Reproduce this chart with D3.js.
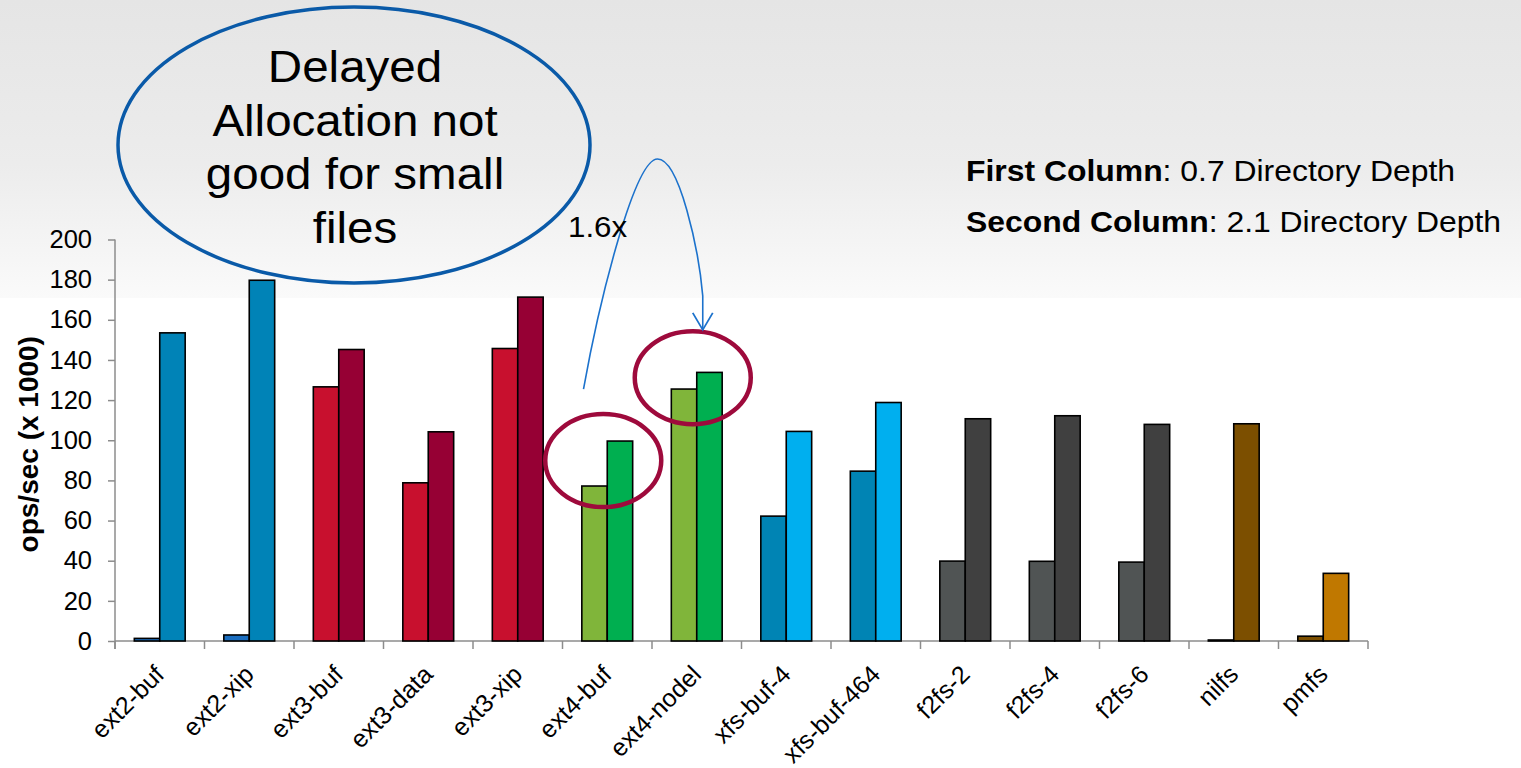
<!DOCTYPE html>
<html>
<head>
<meta charset="utf-8">
<script src="https://cdn.jsdelivr.net/npm/d3@7"></script>
<style>
  body { margin: 0; background: #fff; overflow: hidden; }
  svg { display: block; font-family: "Liberation Sans", Arial, sans-serif; }
</style>
</head>
<body>
<div id="chart"></div>
<script>
// file systems on the x axis
var categories = ["ext2-buf", "ext2-xip", "ext3-buf", "ext3-data", "ext3-xip", "ext4-buf", "ext4-nodel",
	"xfs-buf-4", "xfs-buf-464", "f2fs-2", "f2fs-4", "f2fs-6", "nilfs", "pmfs"];

// ops/sec (x 1000)
var firstColumn = [1.3, 3, 126.6, 78.8, 145.7, 77.2, 125.5, 62.2, 84.6, 39.8, 39.7, 39.3, 0.5, 2.4];
var secondColumn = [153.5, 179.7, 145.2, 104.2, 171.3, 99.6, 133.8, 104.4, 118.8, 110.7, 112.2, 107.9, 108.2, 33.7];

var firstColors = ["#1a6dbf", "#1a6dbf", "#c8102e", "#c8102e", "#c8102e", "#80b53a", "#80b53a",
	"#0084b4", "#0084b4", "#505454", "#505454", "#505454", "#8e2a4e", "#7c4f00"];
var secondColors = ["#0083b7", "#0083b7", "#960034", "#960034", "#960034", "#00af50", "#00af50",
	"#00afef", "#00afef", "#404040", "#404040", "#404040", "#7c4f00", "#c07800"];

var yTicks = [0, 20, 40, 60, 80, 100, 120, 140, 160, 180, 200];
var yTitle = "ops/sec (x 1000)";

var calloutLines = ["Delayed", "Allocation not", "good for small", "files"];
var legendBold = ["First Column", "Second Column"];
var legendRest = [": 0.7 Directory Depth", ": 2.1 Directory Depth"];
var circled = ["ext4-buf", "ext4-nodel"];
var speedup = "1.6x";

var width = 1521, height = 768;
var stretch = 1.08; // slide text is a bit wider than the font

var svg = d3.select("#chart").append("svg")
	.attr("width", width)
	.attr("height", height);

// slide background, grey band fading out at the top
var defs = svg.append("defs");
var grad = defs.append("linearGradient")
	.attr("id", "bg")
	.attr("x1", 0).attr("y1", 0).attr("x2", 0).attr("y2", 1);
grad.append("stop").attr("offset", "0%").attr("stop-color", "#e5e5e5");
grad.append("stop").attr("offset", "55%").attr("stop-color", "#ececec");
grad.append("stop").attr("offset", "100%").attr("stop-color", "#fafafa");

svg.append("rect").attr("width", width).attr("height", height).attr("fill", "#fff");
svg.append("rect").attr("width", width).attr("height", 298).attr("fill", "url(#bg)");

var xScale = d3.scaleBand()
	.domain(categories)
	.range([115, 1368])
	.padding(0);

var subScale = d3.scaleBand()
	.domain(["first", "second"])
	.range([0, xScale.bandwidth()])
	.paddingInner(0)
	.paddingOuter(0.76);

var yScale = d3.scaleLinear()
	.domain([0, 200])
	.range([641, 239.5]);

var rows = categories.map(function (c, i) {
	return { cat: c, first: firstColumn[i], second: secondColumn[i], c1: firstColors[i], c2: secondColors[i] };
});

//Create Y axis
var yAxis = svg.append("g")
	.attr("class", "axis y yAxis")
	.attr("transform", "translate(" + xScale.range()[0] + ",0)")
	.call(d3.axisLeft(yScale).tickValues(yTicks).tickSize(7).tickPadding(16).tickSizeOuter(0));
yAxis.select(".domain").remove();
yAxis.append("line")
	.attr("x1", 0).attr("x2", 0)
	.attr("y1", yScale(200)).attr("y2", yScale(0) + 8)
	.attr("stroke", "#8c8c8c").attr("stroke-width", 1.5);
yAxis.selectAll(".tick line").attr("stroke", "#8c8c8c").attr("stroke-width", 1.5);
yAxis.selectAll(".tick text")
	.attr("fill", "#000")
	.style("font-size", "25.5px")
	.style("font-family", "'Liberation Sans', Arial, sans-serif");

//Create X axis
var xAxis = svg.append("g")
	.attr("class", "axis x xAxis")
	.attr("transform", "translate(0," + yScale(0) + ")");
xAxis.append("line")
	.attr("x1", xScale.range()[0]).attr("x2", xScale.range()[1])
	.attr("stroke", "#8c8c8c").attr("stroke-width", 1.5);
xAxis.selectAll(".xtick")
	.data(categories.concat(["end"]))
	.enter().append("line")
	.attr("class", "xtick")
	.attr("x1", function (d, i) { return xScale.range()[0] + i * xScale.step(); })
	.attr("x2", function (d, i) { return xScale.range()[0] + i * xScale.step(); })
	.attr("y1", 0).attr("y2", 8)
	.attr("stroke", "#8c8c8c").attr("stroke-width", 1.5);
xAxis.selectAll(".xlabel")
	.data(categories)
	.enter().append("text")
	.attr("class", "xlabel")
	.attr("transform", function (d) {
		return "translate(" + (xScale(d) + xScale.bandwidth() / 2 + 6) + ",35)rotate(-45)";
	})
	.attr("text-anchor", "end")
	.style("font-size", "25px")
	.attr("fill", "#000")
	.text(function (d) { return d; });

// y title
svg.append("text")
	.attr("transform", "translate(38," + (yScale(100) + 4) + ")rotate(-90)")
	.attr("text-anchor", "middle")
	.style("font-size", "28px")
	.style("font-weight", "bold")
	.text(yTitle);

///Bars
var groups = svg.selectAll(".group")
	.data(rows)
	.enter().append("g")
	.attr("class", "group")
	.attr("transform", function (d) { return "translate(" + xScale(d.cat) + ",0)"; });

groups.append("rect")
	.attr("x", subScale("first"))
	.attr("width", subScale.bandwidth())
	.attr("y", function (d) { return yScale(d.first); })
	.attr("height", function (d) { return yScale(0) - yScale(d.first); })
	.attr("fill", function (d) { return d.c1; })
	.attr("stroke", "#000")
	.attr("stroke-width", 1.6);

groups.append("rect")
	.attr("x", subScale("second"))
	.attr("width", subScale.bandwidth())
	.attr("y", function (d) { return yScale(d.second); })
	.attr("height", function (d) { return yScale(0) - yScale(d.second); })
	.attr("fill", function (d) { return d.c2; })
	.attr("stroke", "#000")
	.attr("stroke-width", 1.6);

// red circles round the ext4 pairs
svg.selectAll(".ring")
	.data(rows.filter(function (d) { return circled.indexOf(d.cat) >= 0; }))
	.enter().append("ellipse")
	.attr("class", "ring")
	.attr("cx", function (d) { return xScale(d.cat) + xScale.bandwidth() / 2 - 4; })
	.attr("cy", function (d) { return yScale((d.first + d.second) / 2) - 3; })
	.attr("rx", 58)
	.attr("ry", 46.5)
	.attr("fill", "none")
	.attr("stroke", "#9e0a3c")
	.attr("stroke-width", 4.5);

// curved arrow from ext4-buf to ext4-nodel
var x0 = xScale("ext4-buf") + 21, y0 = yScale(125.5);
var xTip = xScale("ext4-nodel") + subScale("second") + 6, yTip = yScale(155);
var arrow = d3.path();
arrow.moveTo(x0, y0);
arrow.bezierCurveTo(x0 + 16, y0 - 89, x0 + 51, y0 - 230, x0 + 74, y0 - 230);
arrow.bezierCurveTo(x0 + 96, y0 - 230, xTip - 4, yTip - 80, xTip, yTip - 34);
arrow.lineTo(xTip, yTip);
svg.append("path")
	.attr("d", arrow.toString())
	.attr("fill", "none")
	.attr("stroke", "#1c72cc")
	.attr("stroke-width", 1.6);
svg.append("path")
	.attr("d", "M" + (xTip - 10) + "," + (yTip - 17) + "L" + xTip + "," + yTip + "L" + (xTip + 10) + "," + (yTip - 17))
	.attr("fill", "none")
	.attr("stroke", "#1c72cc")
	.attr("stroke-width", 1.8);

svg.append("text")
	.attr("transform", "translate(568,237)scale(" + stretch + ",1)")
	.style("font-size", "29px")
	.text(speedup);

// callout bubble
svg.append("ellipse")
	.attr("cx", 354)
	.attr("cy", 145)
	.attr("rx", 236)
	.attr("ry", 138)
	.attr("fill", "none")
	.attr("stroke", "#0a5aa8")
	.attr("stroke-width", 3.5);

var callout = svg.append("g")
	.attr("transform", "translate(355,0)scale(" + stretch + ",1)");
callout.selectAll(".callout")
	.data(calloutLines)
	.enter().append("text")
	.attr("class", "callout")
	.attr("x", 0)
	.attr("y", function (d, i) { return 82 + i * 53.7; })
	.attr("text-anchor", "middle")
	.style("font-size", "44px")
	.text(function (d) { return d; });

// column legend
var legendG = svg.append("g")
	.attr("transform", "translate(966,0)scale(1.1,1)");
var legend = legendG.selectAll(".legendLine")
	.data(legendBold)
	.enter().append("text")
	.attr("class", "legendLine")
	.attr("x", 0)
	.attr("y", function (d, i) { return 181 + i * 51; })
	.style("font-size", "29px");
legend.append("tspan")
	.style("font-weight", "bold")
	.text(function (d) { return d; });
legend.append("tspan")
	.text(function (d, i) { return legendRest[i]; });
</script>
</body>
</html>
